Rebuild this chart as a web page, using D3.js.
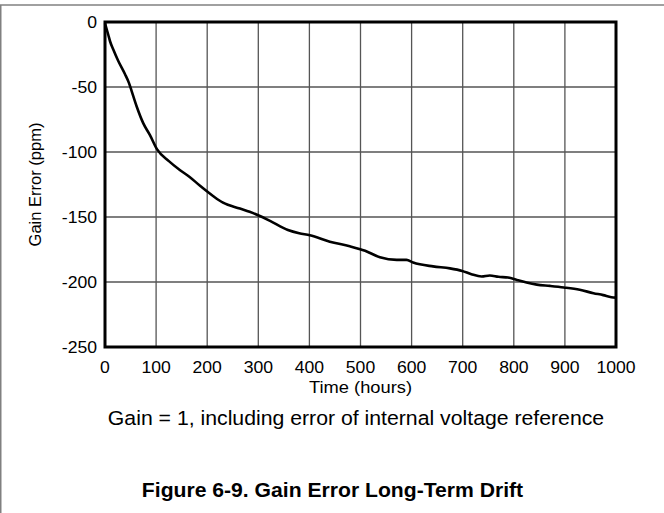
<!DOCTYPE html>
<html>
<head>
<meta charset="utf-8">
<script src="https://cdn.jsdelivr.net/npm/d3@7/dist/d3.min.js"></script>
<style>
  html, body { margin: 0; padding: 0; background: #fff; }
  svg { display: block; }
  text { font-family: Arial, "Liberation Sans", Helvetica, sans-serif; fill: #000; }
</style>
</head>
<body>
<svg id="chart" width="664" height="513"></svg>
<script>
// ---- data ----
const hours = [0, 6.5, 10, 16, 26, 39, 47, 52, 62, 75, 88, 102, 125, 147, 165, 186, 212, 231, 264, 283, 302, 323, 358, 380, 401, 440, 479, 509, 538, 571, 590, 603, 642, 675, 699, 717, 737, 753, 770, 789, 806, 825, 845, 871, 898, 929, 956, 975, 991, 1000];
const gainErrorPpm = [-1, -10, -15, -21, -30, -40, -47, -53, -65, -78, -87, -98, -107, -114, -119, -126, -134, -139, -143.5, -146, -149, -153, -160, -162.5, -164, -169, -172.5, -176, -181, -183, -183, -185, -188, -189.5, -191.5, -194, -195.8, -195, -196, -196.6, -198.4, -200.4, -202, -203, -204.2, -206, -208.6, -210.1, -211.7, -212];
const xTicks = [0, 100, 200, 300, 400, 500, 600, 700, 800, 900, 1000];
const yTicks = [0, -50, -100, -150, -200, -250];
const xTitle = "Time (hours)";
const yTitle = "Gain Error (ppm)";
const noteText = "Gain = 1, including error of internal voltage reference";
const figTitle = "Figure 6-9. Gain Error Long-Term Drift";

// ---- layout ----
const svg = d3.select("#chart");
const L = 105, R = 616, T = 22, B = 347;
const x = d3.scaleLinear().domain([0, 1000]).range([L, R]);
const y = d3.scaleLinear().domain([-250, 0]).range([B, T]);

// outer page frame (top and left rules)
svg.append("line").attr("x1", 0).attr("x2", 664).attr("y1", 5).attr("y2", 5)
  .attr("stroke", "#808080").attr("stroke-width", 1.5);
svg.append("line").attr("x1", 0.75).attr("x2", 0.75).attr("y1", 5).attr("y2", 513)
  .attr("stroke", "#808080").attr("stroke-width", 1.5);

// gridlines
svg.append("g").selectAll("line").data(xTicks.slice(1, -1)).join("line")
  .attr("x1", d => x(d)).attr("x2", d => x(d)).attr("y1", T).attr("y2", B)
  .attr("stroke", "#555").attr("stroke-width", 1.3);
svg.append("g").selectAll("line").data(yTicks.slice(1, -1)).join("line")
  .attr("x1", L).attr("x2", R).attr("y1", d => y(d)).attr("y2", d => y(d))
  .attr("stroke", "#555").attr("stroke-width", 1.3);

// data line
const pts = hours.map((h, i) => [h, gainErrorPpm[i]]);
svg.append("path").datum(pts)
  .attr("fill", "none").attr("stroke", "#000").attr("stroke-width", 2.6)
  .attr("stroke-linejoin", "round")
  .attr("d", d3.line().x(d => x(d[0])).y(d => y(d[1])).curve(d3.curveMonotoneX));

// frame
svg.append("rect").attr("x", L).attr("y", T).attr("width", R - L).attr("height", B - T)
  .attr("fill", "none").attr("stroke", "#000").attr("stroke-width", 3);

// text helper with horizontal stretch
function txt(xp, yp, s, size, anchor, sx, weight) {
  return svg.append("text")
    .attr("transform", `translate(${xp},${yp}) scale(${sx},1)`)
    .attr("text-anchor", anchor)
    .style("font-size", size + "px")
    .style("font-weight", weight || "normal")
    .text(s);
}

// tick labels
xTicks.forEach(t => txt(x(t), 373, String(t), 16, "middle", 1.1));
yTicks.forEach(t => txt(97, y(t) + 5.5, String(t), 16, "end", 1.1));

// axis titles
txt(x(500), 392.5, xTitle, 16.5, "middle", 1.11);
svg.append("text")
  .attr("transform", `translate(41,${(T + B) / 2}) rotate(-90)`)
  .attr("text-anchor", "middle")
  .style("font-size", "16.5px")
  .text(yTitle);

// note and figure caption
txt(356, 425, noteText, 19.5, "middle", 1.09);
txt(332.5, 496.5, figTitle, 19.5, "middle", 1.085, "bold");
</script>
</body>
</html>
